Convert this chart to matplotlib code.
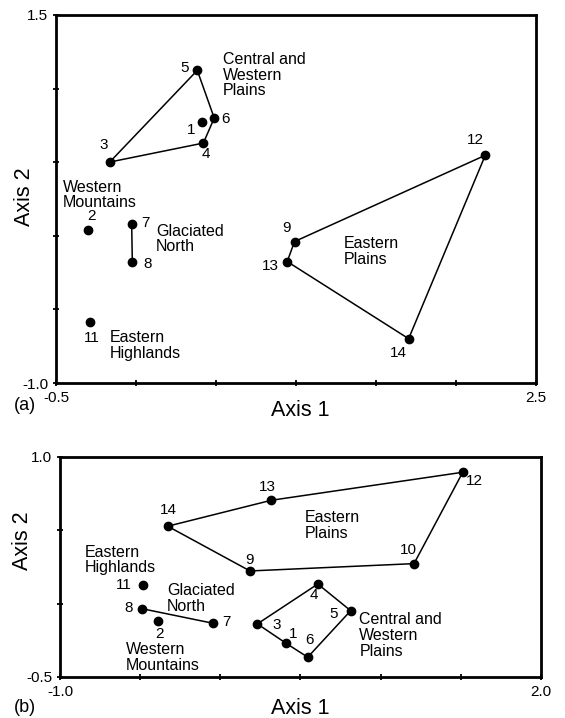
import matplotlib
matplotlib.use('Agg')
import matplotlib.pyplot as plt

plt.rcParams['font.family'] = ['Liberation Sans', 'DejaVu Sans']

W, H = 565, 718

# panel (a) site scores
sites_a = [1, 2, 3, 4, 5, 6, 7, 8, 9, 11, 12, 13, 14]
axis1_a = [0.414, -0.298, -0.164, 0.421, 0.383, 0.489, -0.027, -0.023, 0.991, -0.288, 2.183, 0.945, 1.704]
axis2_a = [0.773, 0.037, 0.501, 0.630, 1.124, 0.800, 0.078, -0.176, -0.039, -0.584, 0.547, -0.175, -0.699]
hulls_a = [[5, 6, 4, 3, 5], [12, 14, 13, 9, 12], [7, 8]]
xticks_a = [-0.5, 0.0, 0.5, 1.0, 1.5, 2.0, 2.5]
xticklabels_a = ['-0.5', '', '', '', '', '', '2.5']
yticks_a = [-1.0, -0.5, 0.0, 0.5, 1.0, 1.5]
yticklabels_a = ['-1.0', '', '', '', '', '1.5']
regions_a = ['Central and\nWestern\nPlains', 'Western\nMountains', 'Glaciated\nNorth',
             'Eastern\nHighlands', 'Eastern\nPlains']

# panel (b) site scores
sites_b = [1, 2, 3, 4, 5, 6, 7, 8, 9, 10, 11, 12, 13, 14]
axis1_b = [0.410, -0.391, 0.231, 0.608, 0.813, 0.545, -0.044, -0.490, 0.185, 1.208, -0.480, 1.512, 0.318, -0.328]
axis2_b = [-0.270, -0.120, -0.138, 0.134, -0.048, -0.365, -0.134, -0.034, 0.223, 0.273, 0.127, 0.896, 0.705, 0.528]
hulls_b = [[14, 13, 12, 10, 9, 14], [3, 4, 5, 6, 1, 3], [8, 7]]
xticks_b = [-1.0, -0.5, 0.0, 0.5, 1.0, 1.5, 2.0]
xticklabels_b = ['-1.0', '', '', '', '', '', '2.0']
yticks_b = [-0.5, 0.0, 0.5, 1.0]
yticklabels_b = ['-0.5', '', '', '1.0']
regions_b = ['Eastern\nPlains', 'Eastern\nHighlands', 'Glaciated\nNorth',
             'Western\nMountains', 'Central and\nWestern\nPlains']

# layout: number label offsets in pixels, region label anchors (data coords)
num_off_a = {5: (-13, 2), 6: (11, -1), 1: (-11, -8), 4: (3, -11), 3: (-6, 17), 2: (3, 14),
             7: (14, 1), 8: (15, -2), 11: (2, -16), 9: (-8, 14), 13: (-17, -4), 12: (-10, 15),
             14: (-10, -14)}
num_off_b = {13: (-4, 13), 14: (1, 16), 9: (0, 11), 11: (-20, 0), 8: (-13, 1), 7: (13, 1),
             2: (2, -13), 3: (19, -1), 1: (7, 9), 12: (12, -9), 10: (-6, 14), 4: (-4, -11),
             5: (-17, -3), 6: (2, 17)}
region_pos_a = [(0.542, 1.092), (-0.458, 0.277), (0.125, -0.022), (-0.167, -0.744), (1.296, -0.105)]
region_pos_b = [(0.528, 0.531), (-0.848, 0.298), (-0.334, 0.037), (-0.588, -0.368), (0.867, -0.217)]


def draw_panel(box, sites, xs, ys, hulls, offs, regions, region_pos,
               xt, xtl, yt, ytl):
    left, top, right, bottom = box
    ax = fig.add_axes([left / W, 1 - bottom / H, (right - left) / W, (bottom - top) / H])
    pos = dict(zip(sites, zip(xs, ys)))
    for hull in hulls:
        ax.plot([pos[s][0] for s in hull], [pos[s][1] for s in hull], color='black', lw=1.1,
                zorder=2)
    ax.plot(xs, ys, 'o', color='black', ms=6, zorder=3)
    for s in sites:
        ax.annotate(str(s), pos[s], xytext=offs[s], textcoords='offset pixels',
                    ha='center', va='center', fontsize=11)
    for txt, (tx, ty) in zip(regions, region_pos):
        ax.text(tx, ty, txt, ha='left', va='center', fontsize=11.5, linespacing=1.05)
    ax.set_xlim(xt[0], xt[-1])
    ax.set_ylim(yt[0], yt[-1])
    ax.set_xticks(xt)
    ax.set_xticklabels(xtl)
    ax.set_yticks(yt)
    ax.set_yticklabels(ytl)
    ax.tick_params(direction='inout', length=5, width=1.3, labelsize=11, pad=3)
    for sp in ax.spines.values():
        sp.set_linewidth(2.0)
    return ax


fig = plt.figure(figsize=(W / 100, H / 100), dpi=100)

draw_panel((56, 15, 536, 383), sites_a, axis1_a, axis2_a, hulls_a, num_off_a, regions_a,
           region_pos_a, xticks_a, xticklabels_a, yticks_a, yticklabels_a)
draw_panel((60, 457, 541, 677), sites_b, axis1_b, axis2_b, hulls_b, num_off_b, regions_b,
           region_pos_b, xticks_b, xticklabels_b, yticks_b, yticklabels_b)

# axis titles and panel letters
fig.text(300 / W, 1 - 410 / H, 'Axis 1', ha='center', va='center', fontsize=15.5)
fig.text(25 / W, 1 - 197 / H, 'Axis 2', ha='center', va='center', fontsize=15.5, rotation=90)
fig.text(25 / W, 1 - 405 / H, '(a)', ha='center', va='center', fontsize=13)
fig.text(300 / W, 1 - 708 / H, 'Axis 1', ha='center', va='center', fontsize=15.5)
fig.text(23 / W, 1 - 541 / H, 'Axis 2', ha='center', va='center', fontsize=15.5, rotation=90)
fig.text(25 / W, 1 - 707 / H, '(b)', ha='center', va='center', fontsize=13)

fig.savefig('out.png', dpi=100)
